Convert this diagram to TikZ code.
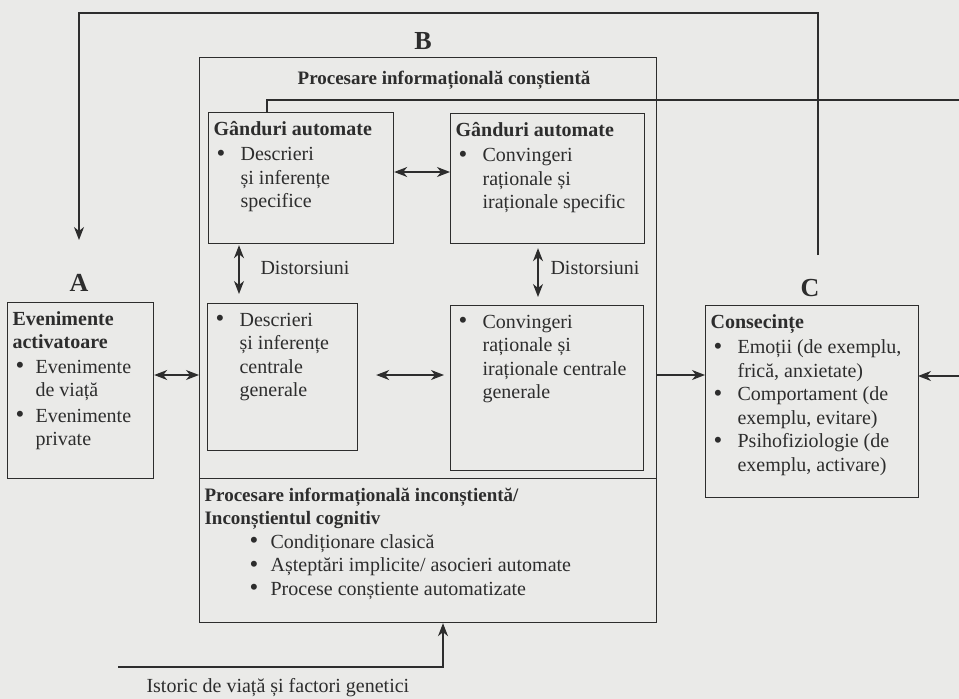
\documentclass[tikz,border=0pt]{standalone}
\usepackage{fontspec}
\setmainfont{Liberation Serif}
\usetikzlibrary{arrows.meta}

\definecolor{paper}{RGB}{234,234,232}
\definecolor{ink}{RGB}{45,45,45}

% bullet column and hanging indent inside the boxes
\newcommand{\blt}[1][27pt]{\makebox[#1][l]{\hspace{3pt}\raisebox{-0.5pt}{\scalebox{1.25}{\textbullet}}}}
\newcommand{\bind}[1][27pt]{\hspace*{#1}}
\newcommand{\boxtxt}[3]{\parbox[t][#2][t]{#1}{\begin{tabular}[t]{@{}l@{}}#3\end{tabular}}}
\newcommand{\htitle}[1]{{\fontsize{19}{23.5}\selectfont\bfseries #1}}

\tikzset{
  box/.style={draw=ink, line width=1.2pt, anchor=north west, inner xsep=5pt, inner ysep=6pt},
  lab/.style={font=\fontsize{26}{28}\selectfont\bfseries},
  arr/.style={draw=ink, line width=1.2pt, -{Stealth[length=13pt,width=10pt,inset=4pt]}},
  darr/.style={arr, {Stealth[length=13pt,width=10pt,inset=4pt]}-{Stealth[length=13pt,width=10pt,inset=4pt]}},
}

\begin{document}
\begin{tikzpicture}[x=1pt, y=-1pt, every node/.style={text=ink, font=\fontsize{20}{23.5}\selectfont}]
    \useasboundingbox[fill=paper] (0,0) rectangle (959,699);

    % A
    \node[lab] (labA) at (79,283) {A};
    \node[box] (evA) at (7,302) {\boxtxt{136pt}{164pt}{%
        \textbf{Evenimente}\\
        \textbf{activatoare}\\[1pt]
        \blt[23pt]Evenimente\\
        \bind[23pt]de viață\\[2pt]
        \blt[23pt]Evenimente\\
        \bind[23pt]private}};

    % B
    \node[lab] (labB) at (423,41) {B};
    \node[box, inner sep=0pt, minimum width=457pt, minimum height=421pt] (procB) at (199,57) {};
    \node (titB) at (444,80) {\htitle{Procesare informațională conștientă}};

    \node[box] (gA) at (208,112) {\boxtxt{175pt}{119pt}{%
        \textbf{Gânduri automate}\\[2pt]
        \blt Descrieri\\
        \bind și inferențe\\
        \bind specifice}};
    \node[box] (gB) at (450,113) {\boxtxt{184pt}{118pt}{%
        \textbf{Gânduri automate}\\[2pt]
        \blt Convingeri\\
        \bind raționale și\\
        \bind iraționale specific}};
    \node[box] (cenL) at (207,303) {\boxtxt{140pt}{135pt}{%
        \blt Descrieri\\
        \bind și inferențe\\
        \bind centrale\\
        \bind generale}};
    \node[box] (cenR) at (450,305) {\boxtxt{183pt}{153pt}{%
        \blt Convingeri\\
        \bind raționale și\\
        \bind iraționale centrale\\
        \bind generale}};
    \node[anchor=west] (disL) at (257,268) {Distorsiuni};
    \node[anchor=west] (disR) at (547,268) {Distorsiuni};

    \node[box] (uncon) at (199,478) {\boxtxt{447pt}{132pt}{%
        \htitle{Procesare informațională inconștientă/}\\
        \htitle{Inconștientul cognitiv}\\
        \hspace*{42pt}\blt[24pt]Condiționare clasică\\
        \hspace*{42pt}\blt[24pt]Așteptări implicite/ asocieri automate\\
        \hspace*{42pt}\blt[24pt]Procese conștiente automatizate}};

    % C
    \node[lab] (labC) at (810,288) {C};
    \node[box] (cons) at (705,305) {\boxtxt{203pt}{180pt}{%
        \textbf{Consecințe}\\[2pt]
        \blt Emoții (de exemplu,\\
        \bind frică, anxietate)\\
        \blt Comportament (de\\
        \bind exemplu, evitare)\\
        \blt Psihofiziologie (de\\
        \bind exemplu, activare)}};

    \node[anchor=west] (hist) at (143,688) {Istoric de viață și factori genetici};

    \coordinate (fromC) at (818,255);
    \coordinate (fbturn) at (79,13);
    \coordinate (intoA) at (79,240);
    \coordinate (gAtop) at (267,112);
    \coordinate (edgeR) at (962,100);
    \coordinate (intoC) at (918,376);
    \coordinate (row) at (0,375);
    \coordinate (toprow) at (0,172);
    \coordinate (colL) at (239,0);
    \coordinate (colR) at (538,0);
    \coordinate (colH) at (443,0);
    \coordinate (histL) at (118,667);

    \draw[arr] (fromC) |- (fbturn) -- (intoA);
    \draw[arr] (gAtop) |- (edgeR) |- (intoC);
    \draw[darr] (evA.east |- row) -- (procB.west |- row);
    \draw[arr] (procB.east |- row) -- (cons.west |- row);
    \draw[darr, shorten <=18pt, shorten >=6pt] (cenL.east |- row) -- (cenR.west |- row);
    \draw[darr] (gA.east |- toprow) -- (gB.west |- toprow);
    \draw[darr, shorten <=1pt, shorten >=9pt] (gA.south -| colL) -- (cenL.north -| colL);
    \draw[darr, shorten <=4pt, shorten >=8pt] (gB.south -| colR) -- (cenR.north -| colR);
    \draw[arr] (histL) -| (uncon.south -| colH);
\end{tikzpicture}
\end{document}
